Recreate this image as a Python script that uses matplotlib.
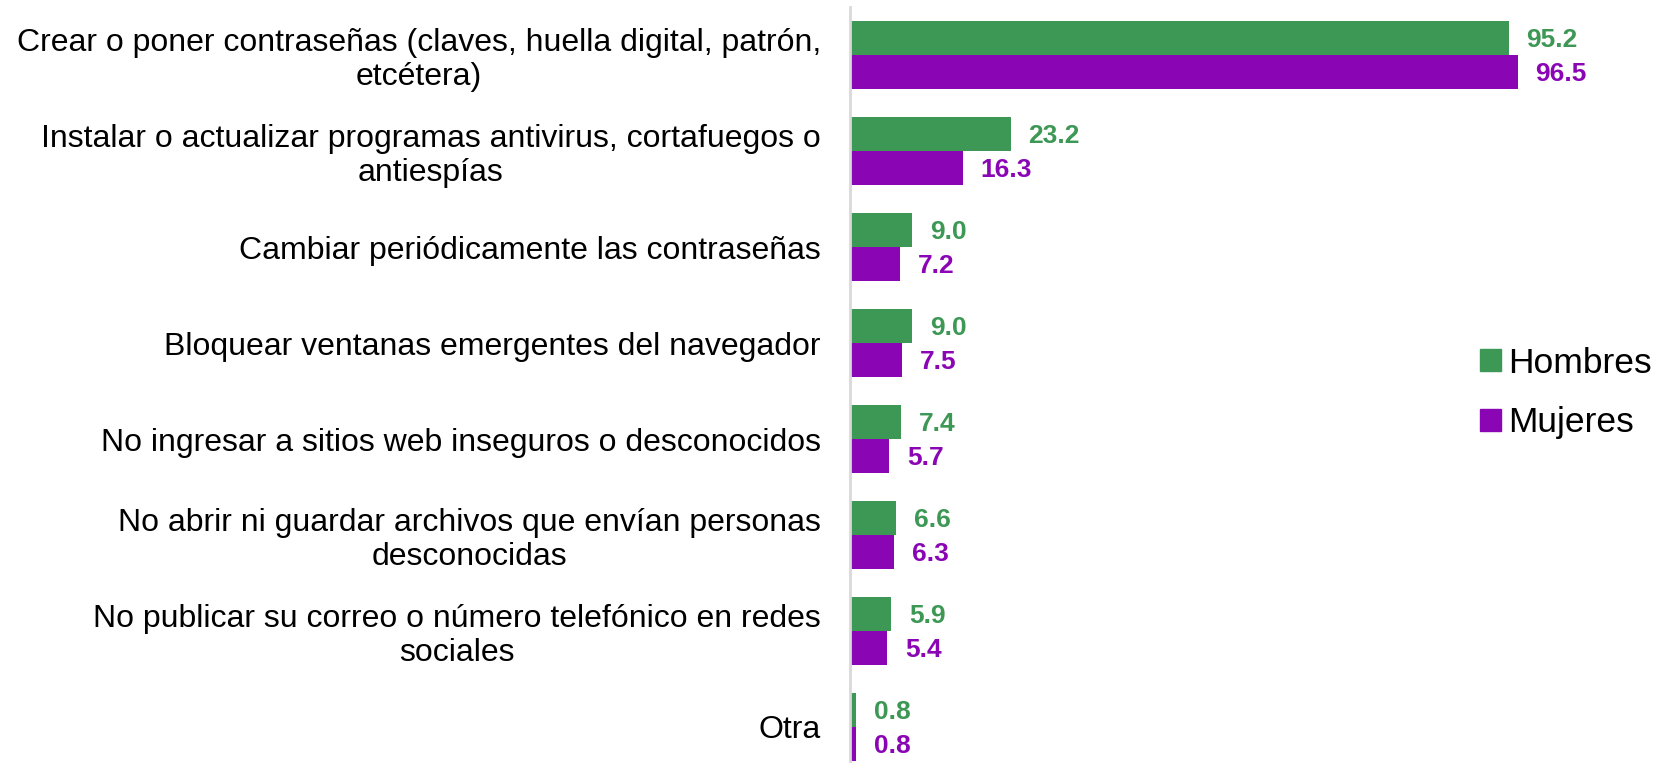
import numpy as np
import matplotlib.pyplot as plt
from matplotlib.patches import Patch

plt.rcParams['font.family'] = ['Liberation Sans', 'DejaVu Sans']

categorias = [
    "Crear o poner contraseñas (claves, huella digital, patrón,\netcétera)",
    "Instalar o actualizar programas antivirus, cortafuegos o\nantiespías",
    "Cambiar periódicamente las contraseñas",
    "Bloquear ventanas emergentes del navegador",
    "No ingresar a sitios web inseguros o desconocidos",
    "No abrir ni guardar archivos que envían personas\ndesconocidas",
    "No publicar su correo o número telefónico en redes\nsociales",
    "Otra",
]
hombres = [95.2, 23.2, 9.0, 9.0, 7.4, 6.6, 5.9, 0.8]
mujeres = [96.5, 16.3, 7.2, 7.5, 5.7, 6.3, 5.4, 0.8]

verde = "#3D9755"
morado = "#8A06B4"

fig = plt.figure(figsize=(16.67, 7.63), dpi=100)
ax = fig.add_axes([850 / 1667, 0, (1611 - 850) / 1667, 1 - 7 / 763])

y = np.arange(len(categorias))
h = 0.35
ax.barh(y - h / 2, hombres, height=h, color=verde)
ax.barh(y + h / 2, mujeres, height=h, color=morado)

for yi, v in zip(y, hombres):
    ax.annotate(f"{v:.1f}", (v, yi - h / 2), xytext=(18, -2), textcoords="offset pixels",
                va="center", ha="left", color=verde, fontsize=19, fontweight="bold")
for yi, v in zip(y, mujeres):
    ax.annotate(f"{v:.1f}", (v, yi + h / 2), xytext=(18, -2), textcoords="offset pixels",
                va="center", ha="left", color=morado, fontsize=19, fontweight="bold")

ax.set_xlim(0, 110)
ax.set_ylim(7.375, -0.5)
ax.set_yticks(y)
ax.set_yticklabels(categorias, fontsize=23, multialignment="center", linespacing=1.15)
ax.tick_params(axis="y", length=0, pad=21)
ax.set_xticks([])
for s in ["top", "right", "bottom"]:
    ax.spines[s].set_visible(False)
ax.spines["left"].set_color("#d9d9d9")
ax.spines["left"].set_linewidth(2)

handles = [Patch(color=verde, label="Hombres"), Patch(color=morado, label="Mujeres")]
fig.legend(handles=handles, loc="center left", bbox_to_anchor=(1462 / 1667, 1 - 393 / 763),
           frameon=False, fontsize=25.5, handlelength=0.6, handleheight=0.6,
           handletextpad=0.2, labelspacing=0.75, borderpad=0)

fig.savefig("out.png", dpi=100)
